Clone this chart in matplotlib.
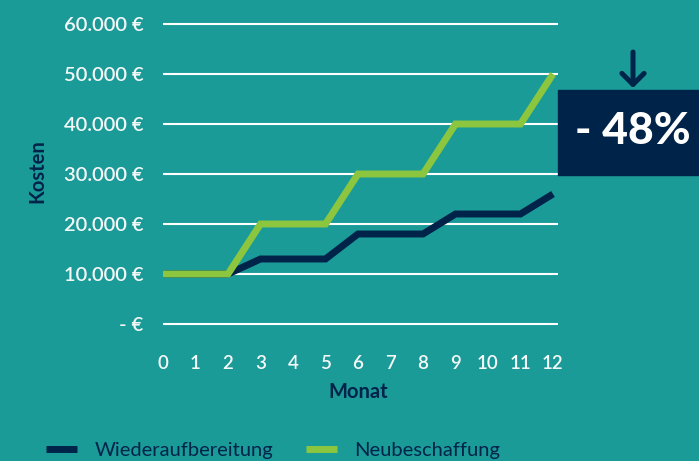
import matplotlib
matplotlib.use('Agg')
import matplotlib.pyplot as plt
from matplotlib.patches import Rectangle

# Data
months = list(range(13))
wiederaufbereitung = [10000, 10000, 10000, 13000, 13000, 13000, 18000, 18000, 18000,
                      22000, 22000, 22000, 26000]
neubeschaffung = [10000, 10000, 10000, 20000, 20000, 20000, 30000, 30000, 30000,
                  40000, 40000, 40000, 50000]
y_ticks = [0, 10000, 20000, 30000, 40000, 50000, 60000]
y_tick_labels = ['- €', '10.000 €', '20.000 €', '30.000 €', '40.000 €', '50.000 €', '60.000 €']
savings_label = '- 48%'

teal = '#1B9B97'
navy = '#00234A'
green = '#8CC63F'

plt.rcParams['font.family'] = ['Lato', 'DejaVu Sans']

fig = plt.figure(figsize=(6.99, 4.61), dpi=100, facecolor=teal)
ax = fig.add_axes([163 / 699, (461 - 331.5) / 461, 395 / 699, 315 / 461])
ax.set_facecolor(teal)

# Lines
ax.plot(months, wiederaufbereitung, color=navy, lw=5, solid_joinstyle='miter',
        solid_capstyle='butt', label='Wiederaufbereitung', zorder=3)
ax.plot(months, neubeschaffung, color=green, lw=5, solid_joinstyle='miter',
        solid_capstyle='butt', label='Neubeschaffung', zorder=4)

ax.set_xlim(0, 12 + 5 / 32.5)
ax.set_ylim(-1500, 61500)
ax.set_xticks(months)
ax.set_yticks(y_ticks)
ax.set_yticklabels(y_tick_labels)
ax.grid(axis='y', color='white', lw=1.5)
ax.grid(axis='x', visible=False)
ax.set_axisbelow(True)
for s in ax.spines.values():
    s.set_visible(False)
ax.tick_params(axis='y', length=0, pad=14, labelsize=14.5, labelcolor='#F4F8F8')
ax.tick_params(axis='x', length=0, pad=17, labelsize=13.5, labelcolor='#F4F8F8')
for t in ax.get_yticklabels() + ax.get_xticklabels():
    t.set_fontweight('semibold')

ax.set_xlabel('Monat', color=navy, fontsize=14.5, fontweight='bold', va='center')
ax.xaxis.set_label_coords(0.494, -0.192)
ax.set_ylabel('Kosten', color=navy, fontsize=14.5, fontweight='bold', va='center')
ax.yaxis.set_label_coords(-0.319, 0.51)

# Legend
fig.legend(loc='lower left', bbox_to_anchor=(38 / 699, -6 / 461), ncol=2, frameon=False,
           fontsize=14.5, labelcolor=navy, handlelength=1.55, handletextpad=0.85,
           columnspacing=1.64, borderaxespad=0)

# Savings box with arrow
fig.patches.append(Rectangle((558 / 699, (461 - 175) / 461), 141 / 699, 85 / 461,
                             transform=fig.transFigure, color=navy, zorder=5))
fig.text(633 / 699, (461 - 131) / 461, savings_label, color='white', fontsize=32,
         fontweight='black', ha='center', va='center', zorder=6)
ax.annotate('', xy=(633 / 699, (461 - 88) / 461), xytext=(633 / 699, (461 - 52) / 461),
            xycoords='figure fraction', textcoords='figure fraction',
            arrowprops=dict(arrowstyle='->,head_length=0.8,head_width=0.8', color=navy,
                            lw=3.6, capstyle='round', joinstyle='round',
                            shrinkA=0, shrinkB=0))

fig.savefig('out.png', dpi=100, facecolor=teal)
